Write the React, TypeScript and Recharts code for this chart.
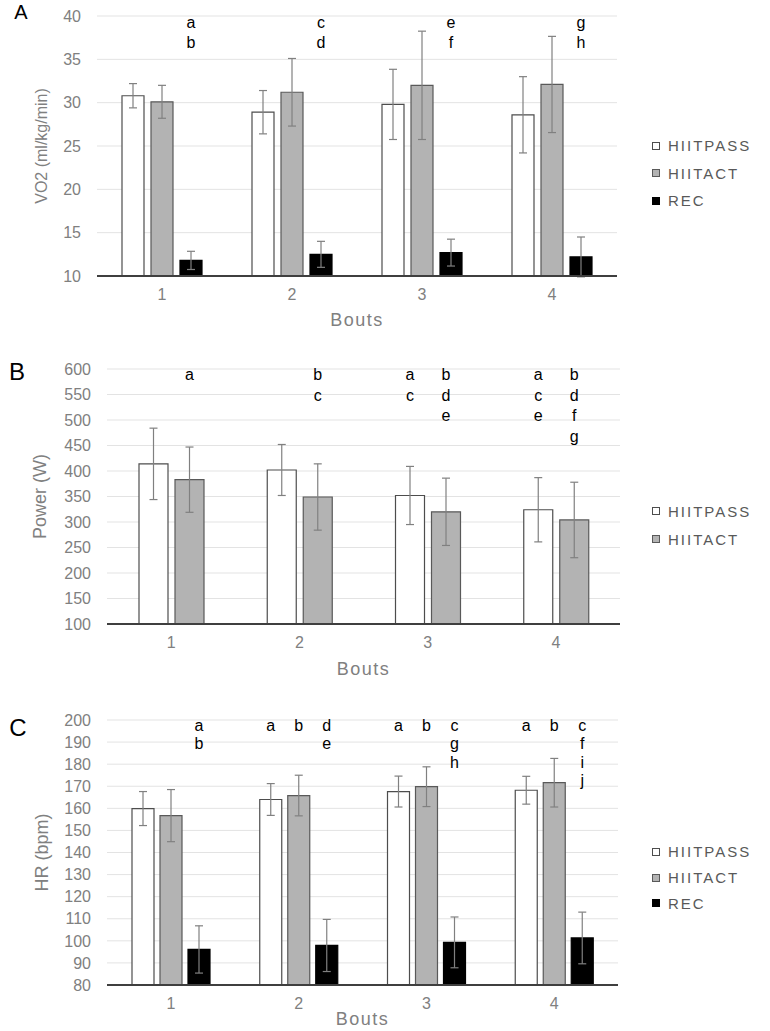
import React from "react";
import {
  BarChart,
  Bar,
  XAxis,
  YAxis,
  CartesianGrid,
  ErrorBar,
  Legend,
  LabelList,
} from "recharts";

const bouts = ["1", "2", "3", "4"];

// A - VO2 (ml/kg/min)
const vo2Pass = [30.8, 28.9, 29.8, 28.6];
const vo2PassSd = [1.4, 2.5, 4.05, 4.4];
const vo2Act = [30.1, 31.2, 32.0, 32.1];
const vo2ActSd = [1.9, 3.9, 6.25, 5.55];
const vo2Rec = [11.8, 12.5, 12.7, 12.2];
const vo2RecSd = [1.05, 1.5, 1.55, 2.3];
const vo2Ticks = [10, 15, 20, 25, 30, 35, 40];
const vo2RecLetters = [["a", "b"], ["c", "d"], ["e", "f"], ["g", "h"]];

// B - Power (W)
const powerPass = [414, 402, 352, 324];
const powerPassSd = [70, 50, 57, 63];
const powerAct = [383, 349, 320, 304];
const powerActSd = [64, 65, 66, 74];
const powerTicks = [100, 150, 200, 250, 300, 350, 400, 450, 500, 550, 600];
const powerPassLetters = [[], [], ["a", "c"], ["a", "c", "e"]];
const powerActLetters = [["a"], ["b", "c"], ["b", "d", "e"], ["b", "d", "f", "g"]];

// C - HR (bpm)
const hrPass = [159.9, 164, 167.6, 168.2];
const hrPassSd = [7.7, 7.2, 7, 6.3];
const hrAct = [156.7, 165.8, 169.8, 171.6];
const hrActSd = [11.8, 9.2, 9, 11];
const hrRec = [96.1, 97.9, 99.3, 101.3];
const hrRecSd = [10.7, 11.8, 11.5, 11.7];
const hrTicks = [80, 90, 100, 110, 120, 130, 140, 150, 160, 170, 180, 190, 200];
const hrPassLetters = [[], ["a"], ["a"], ["a"]];
const hrActLetters = [[], ["b"], ["b"], ["b"]];
const hrRecLetters = [["a", "b"], ["d", "e"], ["c", "g", "h"], ["c", "f", "i", "j"]];

const styles: Record<string, { fill: string; stroke: string }> = {
  HIITPASS: { fill: "#ffffff", stroke: "#4d4d4d" },
  HIITACT: { fill: "#b3b3b3", stroke: "#595959" },
  REC: { fill: "#000000", stroke: "#000000" },
};

const GRAY = "#808080";

type Series = {
  key: string;
  name: string;
  values: number[];
  sd: number[];
  letters?: string[][];
};

type PanelProps = {
  top: number;
  height: number;
  margin: { top: number; right: number; bottom: number; left: number };
  domain: [number, number];
  ticks: number[];
  yLabel: string;
  yLabelSize: number;
  yLabelDist: number;
  boutsDist: number;
  xAxisHeight: number;
  series: Series[];
  barSize: number;
  barGap: number;
  legendTop: number;
  legendRow: number;
  letterPad: number;
  letterStep: number;
};

const Panel = (p: PanelProps) => {
  const [min, max] = p.domain;
  const data = bouts.map((b, i) => {
    const row: any = { bout: b };
    p.series.forEach((s) => {
      row[s.key] = s.values[i];
      row[s.key + "Sd"] = s.sd[i];
    });
    return row;
  });

  const letterContent = (s: Series) => (props: any) => {
    const vb = props.viewBox || props;
    const idx = props.index;
    const list = (s.letters && s.letters[idx]) || [];
    if (!list.length) return null;
    const v = s.values[idx];
    const bottom = vb.y + vb.height;
    const ppu = vb.height / (v - min);
    const plotTop = bottom - (max - min) * ppu;
    const cx = vb.x + vb.width / 2;
    return (
      <g>
        {list.map((l, k) => (
          <text
            key={k}
            x={cx}
            y={plotTop + p.letterPad + k * p.letterStep}
            textAnchor="middle"
            fontSize={16}
            fill="#000"
          >
            {l}
          </text>
        ))}
      </g>
    );
  };

  const yLabelContent = (props: any) => {
    const vb = props.viewBox;
    const x = vb.x + vb.width - p.yLabelDist;
    const y = vb.y + vb.height / 2;
    return (
      <text
        x={x}
        y={y}
        transform={`rotate(-90 ${x} ${y})`}
        textAnchor="middle"
        dominantBaseline="central"
        fontSize={p.yLabelSize}
        fill={GRAY}
      >
        {p.yLabel}
      </text>
    );
  };

  const xLabelContent = (props: any) => {
    const vb = props.viewBox;
    return (
      <text
        x={vb.x + vb.width / 2}
        y={vb.y + p.boutsDist}
        textAnchor="middle"
        dominantBaseline="central"
        fontSize={18}
        letterSpacing={1.5}
        fill={GRAY}
      >
        Bouts
      </text>
    );
  };

  // keep the series order (recharts sorts legend entries by name otherwise)
  const legendContent = () => (
    <div>
      {p.series.map((s) => {
        const st = styles[s.name];
        return (
          <div
            key={s.name}
            style={{ display: "flex", alignItems: "center", height: p.legendRow }}
          >
            <span
              style={{
                display: "inline-block",
                width: 8,
                height: 8,
                boxSizing: "border-box",
                background: st.fill,
                border: `1px solid ${st.stroke}`,
                marginRight: 8,
              }}
            />
            <span style={{ fontSize: 15, color: "#595959", letterSpacing: 2 }}>
              {s.name}
            </span>
          </div>
        );
      })}
    </div>
  );

  return (
    <div style={{ position: "absolute", left: 0, top: p.top }}>
      <BarChart
        width={770}
        height={p.height}
        data={data}
        margin={p.margin}
        barSize={p.barSize}
        barGap={p.barGap}
      >
        <CartesianGrid vertical={false} stroke="#e3e3e3" />
        <XAxis
          dataKey="bout"
          height={p.xAxisHeight}
          tickLine={false}
          axisLine={{ stroke: "#3f3f3f", strokeWidth: 2 }}
          tick={{ fill: GRAY, fontSize: 16 }}
          tickMargin={7}
          label={{ content: xLabelContent }}
        />
        <YAxis
          width={60}
          domain={p.domain}
          ticks={p.ticks}
          interval={0}
          allowDataOverflow
          axisLine={false}
          tickLine={false}
          tick={{ fill: GRAY, fontSize: 16 }}
          tickMargin={10}
          label={{ content: yLabelContent }}
        />
        <Legend
          layout="vertical"
          align="center"
          verticalAlign="middle"
          wrapperStyle={{ left: 652, top: p.legendTop, width: 118 }}
          content={legendContent}
        />
        {p.series.map((s) => (
          <Bar
            key={s.key}
            dataKey={s.key}
            name={s.name}
            fill={styles[s.name].fill}
            stroke={styles[s.name].stroke}
            strokeWidth={1.2}
            isAnimationActive={false}
          >
            <ErrorBar
              dataKey={s.key + "Sd"}
              direction="y"
              width={4}
              stroke={GRAY}
              strokeWidth={1.2}
            />
            {s.letters && <LabelList dataKey={s.key} content={letterContent(s)} />}
          </Bar>
        ))}
      </BarChart>
    </div>
  );
};

const PanelLetter = ({ text, x, y, size }: { text: string; x: number; y: number; size: number }) => (
  <div
    style={{
      position: "absolute",
      left: x,
      top: y,
      transform: "translate(-50%, -50%)",
      fontSize: size,
      lineHeight: 1,
      color: "#000",
    }}
  >
    {text}
  </div>
);

export default function App() {
  return (
    <div
      style={{
        position: "absolute",
        left: 0,
        top: 0,
        width: 770,
        height: 1031,
        background: "#fff",
        overflow: "hidden",
        fontFamily: "'Liberation Sans', Arial, sans-serif",
      }}
    >
      <style>{`.recharts-cartesian-axis-tick text { letter-spacing: 1.5px; }`}</style>
      <Panel
        top={0}
        height={340}
        margin={{ top: 16, right: 153, bottom: 14, left: 37 }}
        domain={[10, 40]}
        ticks={vo2Ticks}
        yLabel="VO2 (ml/kg/min)"
        yLabelSize={16}
        yLabelDist={56}
        boutsDist={44}
        xAxisHeight={50}
        barSize={22}
        barGap={7}
        legendTop={132}
        legendRow={27.5}
        letterPad={12}
        letterStep={20}
        series={[
          { key: "pass", name: "HIITPASS", values: vo2Pass, sd: vo2PassSd },
          { key: "act", name: "HIITACT", values: vo2Act, sd: vo2ActSd },
          { key: "rec", name: "REC", values: vo2Rec, sd: vo2RecSd, letters: vo2RecLetters },
        ]}
      />
      <Panel
        top={340}
        height={345}
        margin={{ top: 29, right: 150, bottom: 11, left: 47 }}
        domain={[100, 600]}
        ticks={powerTicks}
        yLabel="Power (W)"
        yLabelSize={18}
        yLabelDist={67}
        boutsDist={45}
        xAxisHeight={50}
        barSize={29}
        barGap={7}
        legendTop={157}
        legendRow={28}
        letterPad={11}
        letterStep={20.5}
        series={[
          { key: "pass", name: "HIITPASS", values: powerPass, sd: powerPassSd, letters: powerPassLetters },
          { key: "act", name: "HIITACT", values: powerAct, sd: powerActSd, letters: powerActLetters },
        ]}
      />
      <Panel
        top={690}
        height={341}
        margin={{ top: 30, right: 152, bottom: 6, left: 47 }}
        domain={[80, 200]}
        ticks={hrTicks}
        yLabel="HR (bpm)"
        yLabelSize={18}
        yLabelDist={65}
        boutsDist={34}
        xAxisHeight={40}
        barSize={22}
        barGap={6}
        legendTop={149}
        legendRow={25.7}
        letterPad={11}
        letterStep={18.3}
        series={[
          { key: "pass", name: "HIITPASS", values: hrPass, sd: hrPassSd, letters: hrPassLetters },
          { key: "act", name: "HIITACT", values: hrAct, sd: hrActSd, letters: hrActLetters },
          { key: "rec", name: "REC", values: hrRec, sd: hrRecSd, letters: hrRecLetters },
        ]}
      />
      <PanelLetter text="A" x={21} y={12} size={20} />
      <PanelLetter text="B" x={17} y={372} size={24} />
      <PanelLetter text="C" x={18} y={728} size={24} />
    </div>
  );
}
